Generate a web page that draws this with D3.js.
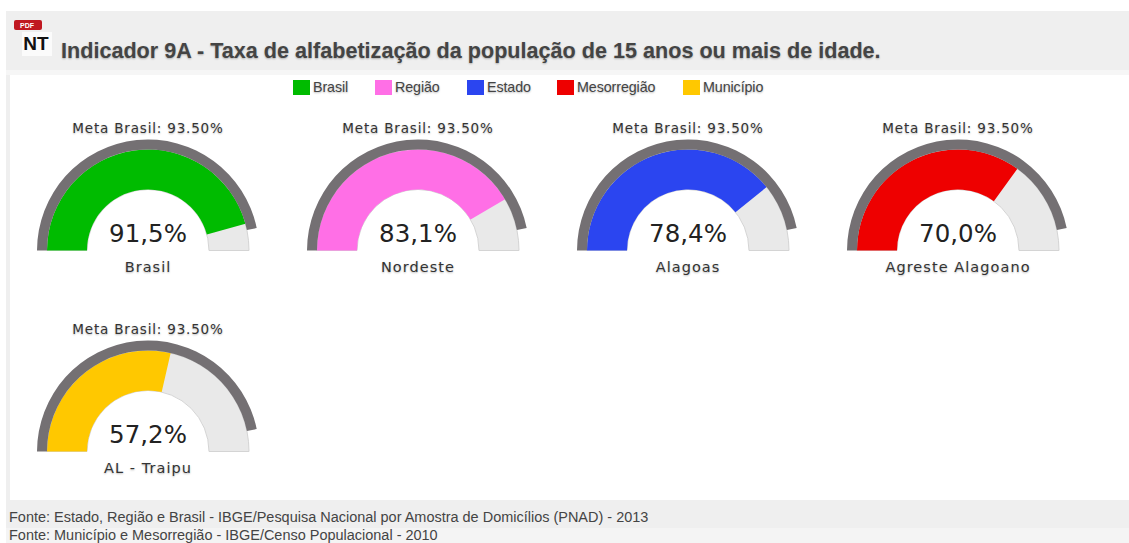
<!DOCTYPE html>
<html><head><meta charset="utf-8">
<script src="https://cdn.jsdelivr.net/npm/d3@7/dist/d3.min.js"></script>
<style>html,body{margin:0;padding:0;background:#fff;overflow:hidden}svg{display:block}</style>
</head><body><svg id="c" width="1129" height="543"></svg>
<script>
const titleText = "Indicador 9A - Taxa de alfabetização da população de 15 anos ou mais de idade.";
const legendNames = ["Brasil","Região","Estado","Mesorregião","Município"];
const legendColors = ["#00bb00","#ff6fe6","#2b45f0","#ee0000","#ffc800"];
const legendX = [293,375,467,557,683];
const gaugeNames = ["Brasil","Nordeste","Alagoas","Agreste Alagoano","AL - Traipu"];
const gaugeValues = [91.5,83.1,78.4,70.0,57.2];
const gaugeLabels = ["91,5%","83,1%","78,4%","70,0%","57,2%"];
const gaugeColors = legendColors;
const gaugeCx = [148,418,688,958,148];
const gaugeBase = [250.5,250.5,250.5,250.5,451.5];
const metaValue = 93.5;
const metaLabel = "Meta Brasil: 93.50%";
const sources = ["Fonte: Estado, Região e Brasil - IBGE/Pesquisa Nacional por Amostra de Domicílios (PNAD) - 2013",
                 "Fonte: Município e Mesorregião - IBGE/Censo Populacional - 2010"];

const svg = d3.select("#c");
const rect=(x,y,w,h,f)=>svg.append("rect").attr("x",x).attr("y",y).attr("width",w).attr("height",h).attr("fill",f);
const sans="'Liberation Sans',Arial,sans-serif", dj="'DejaVu Sans',Verdana,sans-serif";
const shadow="0 1px 2px rgba(0,0,0,.28)";

rect(6,11,1123,532,"#efefef");
rect(6,70,1123,5,"#f6f6f6");
rect(10,75,1119,425,"#ffffff");
rect(6,528,1123,15,"#f4f4f4");

// icon
rect(14,20,28,10,"#c01820").attr("rx",2);
svg.append("text").attr("x",27).attr("y",28).attr("text-anchor","middle").attr("font-family",sans).attr("font-weight","bold").attr("font-size",7).attr("fill","#fff").text("PDF");
rect(22,32,30,24,"#fbfbfb");
svg.append("text").attr("x",36).attr("y",50).attr("text-anchor","middle").attr("font-family",sans).attr("font-weight","bold").attr("font-size",19).attr("fill","#111").text("NT");

svg.append("text").attr("x",61).attr("y",58).attr("font-family",sans).attr("font-weight","bold").attr("font-size",21.6).attr("fill","#444").style("text-shadow",shadow).text(titleText);

const lg=svg.append("g").selectAll("g").data(legendNames).join("g").attr("transform",(d,i)=>`translate(${legendX[i]},80)`);
lg.append("rect").attr("width",17).attr("height",15).attr("fill",(d,i)=>legendColors[i]);
lg.append("text").attr("x",20).attr("y",12).attr("font-family",sans).attr("font-size",14.3).attr("letter-spacing",-0.1).attr("fill","#444").style("text-shadow",shadow).text(d=>d);

const angle=d3.scaleLinear().domain([0,100]).range([-Math.PI/2,Math.PI/2]);
const fillArc=d3.arc().innerRadius(61).outerRadius(101);
const metaArc=d3.arc().innerRadius(101).outerRadius(111);

const g=svg.append("g").selectAll("g").data(gaugeNames).join("g").attr("transform",(d,i)=>`translate(${gaugeCx[i]},${gaugeBase[i]})`);
g.append("path").attr("d",fillArc({startAngle:angle(0),endAngle:angle(100)})).attr("fill","#e9e9e9").attr("stroke","#d4d4d4").attr("stroke-width",1);
g.append("path").attr("d",(d,i)=>fillArc({startAngle:angle(0),endAngle:angle(gaugeValues[i])})).attr("fill",(d,i)=>gaugeColors[i]);
g.append("path").attr("d",metaArc({startAngle:angle(0),endAngle:angle(metaValue)})).attr("fill","#747073");
g.append("text").attr("y",-118).attr("text-anchor","middle").attr("font-family",dj).attr("font-size",13.5).attr("letter-spacing",0.82).attr("fill","#333").style("text-shadow",shadow).text(metaLabel);
g.append("text").attr("y",-9).attr("text-anchor","middle").attr("font-family",dj).attr("font-size",24.5).attr("fill","#222").text((d,i)=>gaugeLabels[i]);
g.append("text").attr("y",21.5).attr("text-anchor","middle").attr("font-family",dj).attr("font-size",14.5).attr("letter-spacing",1.05).attr("fill","#333").style("text-shadow",shadow).text(d=>d);

svg.append("g").selectAll("text").data(sources).join("text").attr("x",9).attr("y",(d,i)=>522+i*18).attr("font-family",sans).attr("font-size",14.47).attr("fill","#444").text(d=>d);
</script></body></html>
